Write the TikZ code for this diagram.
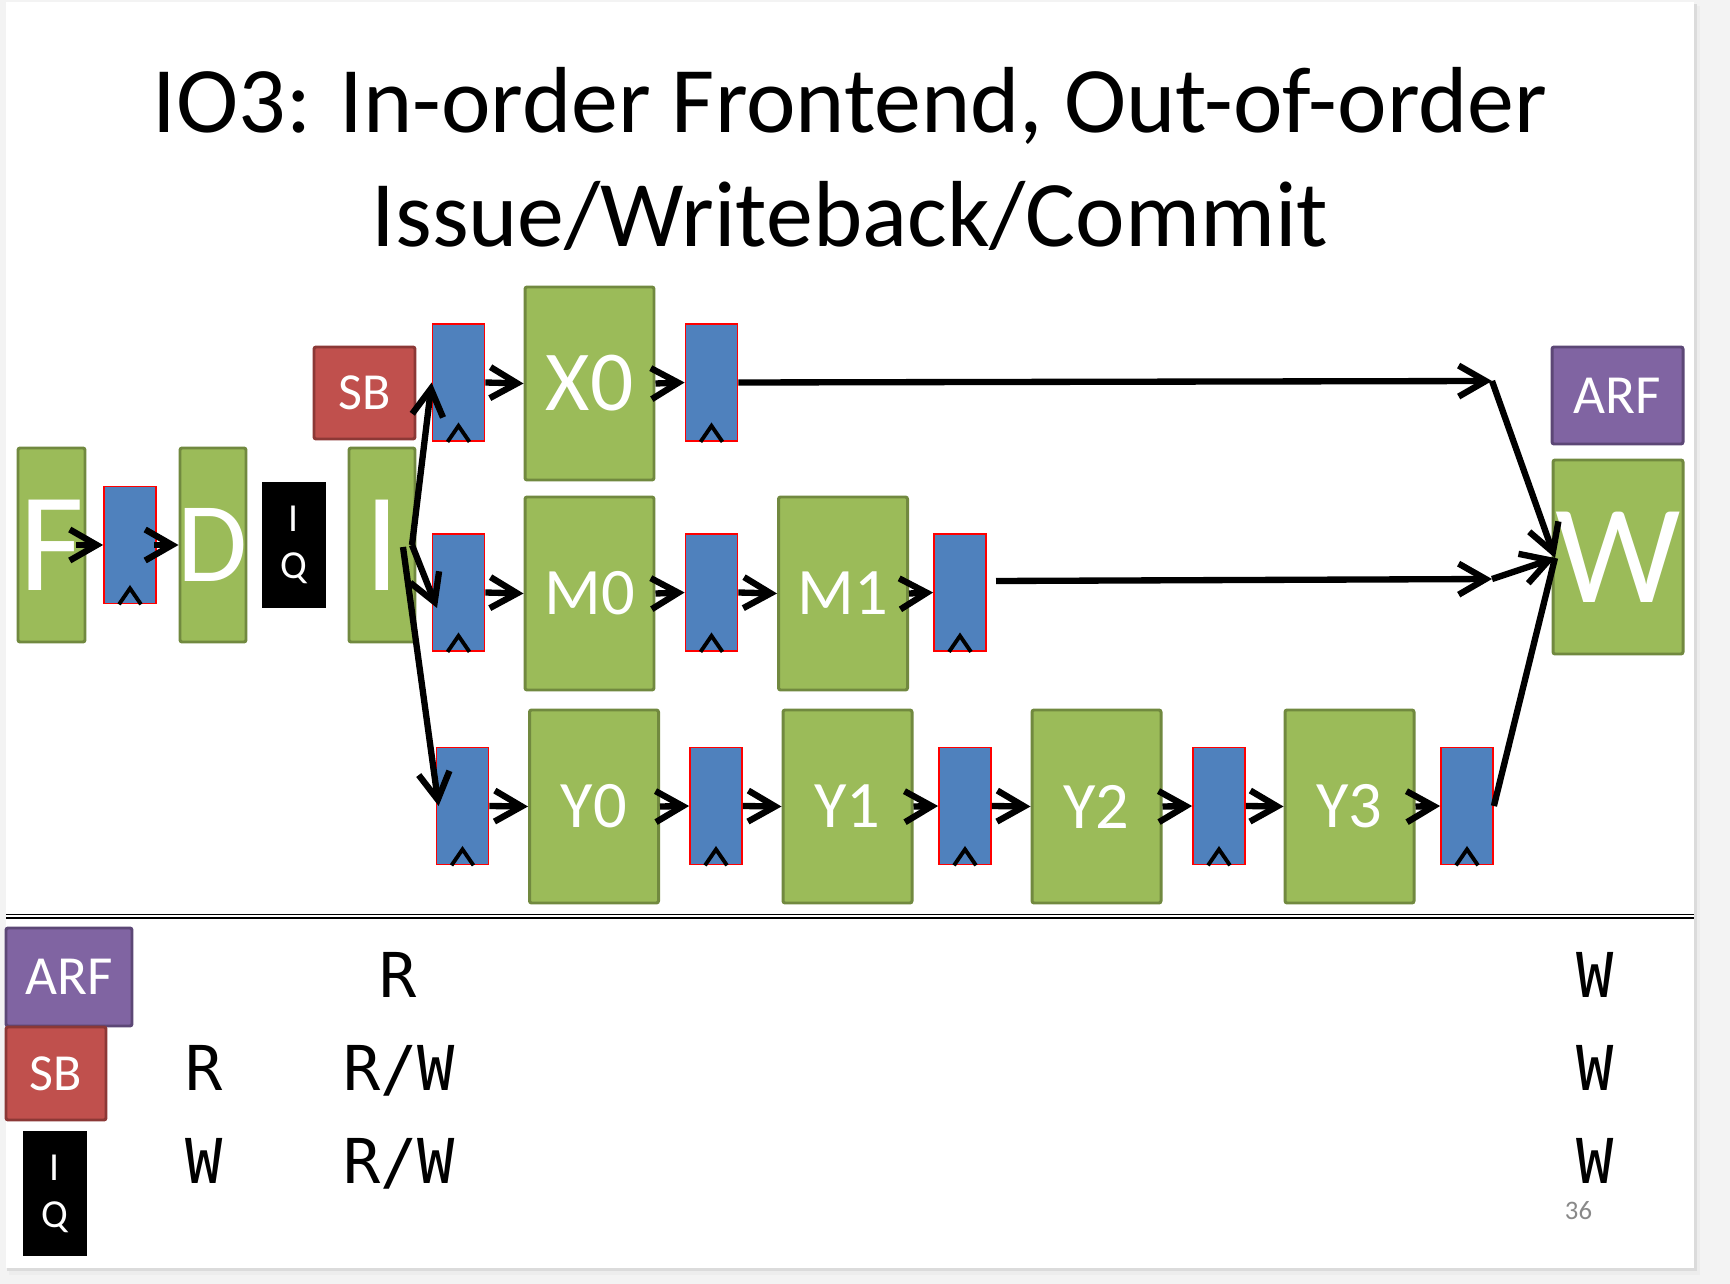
\documentclass[tikz,border=0pt]{standalone}
\usepackage{fontspec}
\setmainfont{Carlito}
\newfontfamily\tablefont{DejaVu Sans Mono}
\usetikzlibrary{arrows.meta,shadows}

\definecolor{pagegray}{HTML}{F3F3F3}
\definecolor{stagefill}{HTML}{9BBB59}
\definecolor{stageline}{HTML}{71893F}
\definecolor{regblue}{HTML}{4F81BD}
\definecolor{sbfill}{HTML}{C0504D}
\definecolor{sbline}{HTML}{8C3836}
\definecolor{arffill}{HTML}{8064A2}
\definecolor{arfline}{HTML}{5C4776}
\definecolor{numgray}{HTML}{898989}

\begin{document}
\begin{tikzpicture}[x=0.1mm,y=-0.1mm,
    stage/.style={draw=stageline, fill=stagefill, line width=0.85pt, rounded corners=0.6pt,
      text=white, inner sep=0pt, minimum width=12.9mm, minimum height=19.3mm},
    pipereg/.style={draw=red, fill=regblue, line width=0.5pt, inner sep=0pt,
      minimum width=5.2mm, minimum height=11.7mm},
    sbbox/.style={draw=sbline, fill=sbfill, line width=0.85pt, rounded corners=0.6pt,
      text=white, inner sep=0pt, font=\fontsize{14.8pt}{16pt}\selectfont},
    arfbox/.style={draw=arfline, fill=arffill, line width=0.85pt, rounded corners=0.6pt,
      text=white, inner sep=0pt, font=\fontsize{15.7pt}{17pt}\selectfont},
    iq/.style={draw=white, fill=black, line width=1.7pt, text=white, align=center,
      inner sep=0pt, minimum width=7mm, minimum height=13.1mm,
      font=\fontsize{11.3pt}{13.4pt}\selectfont,
      drop shadow={shadow xshift=0.25mm, shadow yshift=-0.3mm, opacity=0.25}},
    flow/.style={line width=1.8pt, -{Straight Barb[length=2.7mm,width=3.1mm]}},
    wire/.style={line width=1.8pt},
    caret/.style={line width=1.1pt},
    cell/.style={anchor=base, inner sep=0pt, font=\tablefont\fontsize{17.6pt}{20pt}\selectfont}]
  \useasboundingbox (0,0) rectangle (1730,1284);

  % slide and its shadow
  \fill[pagegray] (0,0) rectangle (1730,1284);
  \fill[black!7] (9,6) rectangle (1700,1275);
  \fill[black!14] (7,4) rectangle (1697,1271);
  \fill[white] (6,2) rectangle (1694,1268);

  % title
  \node[anchor=base, font=\fontsize{26.7pt}{32pt}\selectfont] (title1) at (850,133)
    {IO3: In-order Frontend, Out-of-order};
  \node[anchor=base, font=\fontsize{26.7pt}{32pt}\selectfont] (title2) at (850,247)
    {Issue/Writeback/Commit};

  % in-order frontend
  \node[stage, minimum width=6.7mm, minimum height=19.4mm, font=\fontsize{40.1pt}{42pt}\selectfont] (F) at (51.5,545) {\makebox[0pt]{F}};
  \node[pipereg] (r1) at (130,545) {};
  \node[stage, minimum width=6.6mm, minimum height=19.4mm, font=\fontsize{32.4pt}{34pt}\selectfont] (D) at (213,545) {\makebox[0pt]{D}};
  \node[iq] (IQ) at (294,545) {I\\Q};
  \node[stage, minimum width=6.6mm, minimum height=19.4mm, font=\fontsize{40.1pt}{42pt}\selectfont] (I) at (382,545) {\makebox[0pt]{I}};
  \node[sbbox, minimum width=10.1mm, minimum height=9.2mm] (SB) at (364.5,393) {SB};

  % X pipe
  \node[pipereg] (Xin) at (458.5,382.5) {};
  \node[stage, font=\fontsize{24.3pt}{26pt}\selectfont] (X0) at (589.5,383.5) {X0};
  \node[pipereg] (Xout) at (711.5,382.5) {};

  % M pipe
  \node[pipereg] (Min) at (458.5,592.5) {};
  \node[stage, font=\fontsize{18.9pt}{21pt}\selectfont] (M0) at (589.5,593.5) {M0};
  \node[pipereg] (M0out) at (711.5,592.5) {};
  \node[stage, font=\fontsize{18.9pt}{21pt}\selectfont] (M1) at (843,593.5) {M1};
  \node[pipereg] (M1out) at (960,592.5) {};

  % Y pipe
  \node[pipereg] (Yin) at (462.5,806) {};
  \node[stage, font=\fontsize{18.9pt}{21pt}\selectfont] (Y0) at (594,806.5) {Y0};
  \node[pipereg] (Y0out) at (716,806) {};
  \node[stage, font=\fontsize{18.9pt}{21pt}\selectfont] (Y1) at (847.5,806.5) {Y1};
  \node[pipereg] (Y1out) at (965,806) {};
  \node[stage, font=\fontsize{18.9pt}{21pt}\selectfont] (Y2) at (1096.5,806.5) {Y2};
  \node[pipereg] (Y2out) at (1219,806) {};
  \node[stage, font=\fontsize{18.9pt}{21pt}\selectfont] (Y3) at (1349.5,806.5) {Y3};
  \node[pipereg] (Y3out) at (1467,806) {};

  % writeback
  \node[arfbox, minimum width=13.1mm, minimum height=9.7mm] (ARF) at (1617.5,395.5) {ARF};
  \node[stage, minimum width=13mm, minimum height=19.4mm, font=\fontsize{40.1pt}{42pt}\selectfont] (W) at (1618,557) {W};

  % clock marks
  \foreach \r in {r1,Xin,Xout,Min,M0out,M1out,Yin,Y0out,Y1out,Y2out,Y3out}
    \draw[caret] ([xshift=-1.1mm]\r.south) -- ++(11,-16) -- ++(11,16);

  % frontend arrows
  \draw[flow] ([xshift=-1mm]F.east) -- (r1.west);
  \draw[flow] ([xshift=-0.3mm]r1.east) -- (D.west);

  % issue
  \coordinate (fork) at (412,545);
  \coordinate (fork2) at (403,547);
  \coordinate (mtip) at (437,608);
  \draw[flow] (fork) -- (Xin.west);
  \draw[flow] (fork) -- (mtip);
  \draw[flow] (fork2) -- ([xshift=0.3mm]Yin.west);

  % pipe arrows
  \draw[flow] (Xin.east) -- (X0.west);
  \draw[flow] (X0.east) -- (Xout.west);
  \draw[flow] (Min.east) -- (M0.west);
  \draw[flow] (M0.east) -- (M0out.west);
  \draw[flow] (M0out.east) -- (M1.west);
  \draw[flow] (M1.east) -- (M1out.west);
  \draw[flow] (Yin.east) -- (Y0.west);
  \draw[flow] (Y0.east) -- (Y0out.west);
  \draw[flow] (Y0out.east) -- (Y1.west);
  \draw[flow] (Y1.east) -- (Y1out.west);
  \draw[flow] (Y1out.east) -- (Y2.west);
  \draw[flow] (Y2.east) -- (Y2out.west);
  \draw[flow] (Y2out.east) -- (Y3.west);
  \draw[flow] (Y3.east) -- (Y3out.west);

  % to writeback
  \coordinate (xbend) at (1492,381);
  \coordinate (mstart) at (996,581);
  \coordinate (mbend) at (1492,579);
  \coordinate (wpt) at (1555,558);
  \draw[flow] (Xout.east) -- (xbend);
  \draw[flow] (xbend) -- (wpt);
  \draw[flow] (mstart) -- (mbend);
  \draw[flow] (mbend) -- (wpt);
  \draw[wire] (Y3out.east) -- (wpt);

  % separator
  \draw[line width=0.45pt] (6,914.5) -- (1694,914.5);
  \draw[line width=0.6pt] (6,918) -- (1694,918);

  % access table
  \node[arfbox, minimum width=12.6mm, minimum height=9.8mm] (ARFkey) at (69,977) {ARF};
  \node[sbbox, minimum width=10mm, minimum height=9.3mm] (SBkey) at (56,1073.5) {SB};
  \node[iq] (IQkey) at (55,1193.5) {I\\Q};
  \node[cell] (arfR) at (398,997) {R};
  \node[cell] (arfW) at (1595,997) {W};
  \node[cell] (sbR) at (204,1090) {R};
  \node[cell] (sbRW) at (399,1090) {R/W};
  \node[cell] (sbW) at (1595,1090) {W};
  \node[cell] (iqW) at (204,1183) {W};
  \node[cell] (iqRW) at (399,1183) {R/W};
  \node[cell] (iqW2) at (1595,1183) {W};

  \node[anchor=base, inner sep=0pt, text=numgray, font=\fontsize{7.6pt}{9pt}\selectfont] (pagenum) at (1578.5,1219) {36};
\end{tikzpicture}
\end{document}
